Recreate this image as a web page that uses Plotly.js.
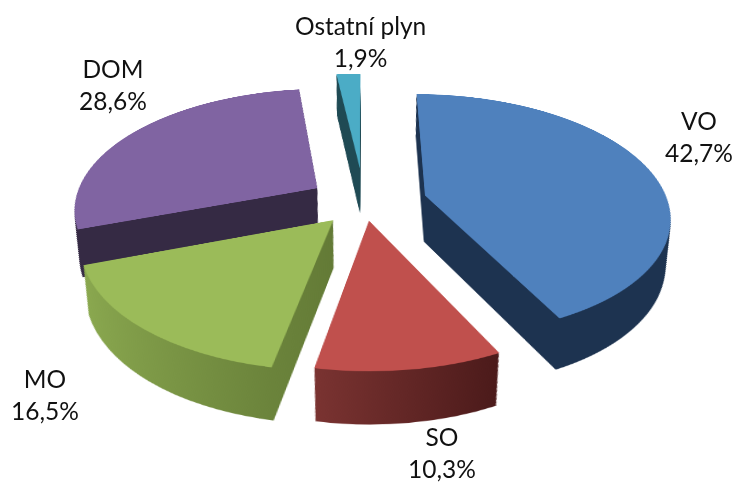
<!DOCTYPE html>
<html><head><meta charset="utf-8">
<script src="https://cdn.plot.ly/plotly-3.0.1.min.js"></script>
<style>html,body{margin:0;padding:0;background:#fff;overflow:hidden}#c{width:734px;height:482px}</style>
</head><body><div id="c"></div>
<script>
const categories=["VO","SO","MO","DOM","Ostatní plyn"];
const shares=[42.7,10.3,16.5,28.6,1.9];
const shareLabels=["42,7%","10,3%","16,5%","28,6%","1,9%"];
const topColors=["#4F81BD","#C0504D","#9BBB59","#8064A2","#4BACC6"];
const wallLeft=["#1D3350","#7A3331","#8AA84F","#352A44","#1F4A54"];
const wallRight=["#1D3350","#4B1A1A","#637A36","#352A44","#1F4A54"];
const pulls=[0.26,0.15,0.19,0.23,0.3];
const labelX=[699,442,45,113,360];
const labelY=[136,452,394,84,41];
const W=734,H=482,layers=40,step=1.3,size=370;
const traces=[];
for(let i=layers;i>=0;i--){
  const s=size*(1-0.075*i/layers);
  const cy=(H-layers*step)/2+i*step;
  traces.push({type:'pie',labels:categories,values:shares,sort:false,direction:'clockwise',rotation:0,pull:pulls,
    marker:{colors:i===0?topColors:wallLeft,line:{width:0}},textinfo:'none',hoverinfo:'skip',showlegend:false,
    domain:{x:[0,1],y:[1-(cy+s/2)/H,1-(cy-s/2)/H]}});
}
const annotations=categories.map((c,i)=>({xref:'paper',yref:'paper',x:labelX[i]/W,y:1-labelY[i]/H,xanchor:'center',yanchor:'middle',
  showarrow:false,align:'center',text:c+'<br>'+shareLabels[i],font:{family:'Lato, Carlito, sans-serif',size:24.5,color:'#111'}}));
Plotly.newPlot('c',traces,{width:W,height:H,margin:{l:0,r:0,t:0,b:0},paper_bgcolor:'rgba(0,0,0,0)',plot_bgcolor:'rgba(0,0,0,0)',annotations},{displayModeBar:false,staticPlot:true}).then(gd=>{
  const svg=gd.querySelector('.main-svg');
  const NS='http://www.w3.org/2000/svg';
  const defs=document.createElementNS(NS,'defs');
  categories.forEach((c,i)=>{
    const g=document.createElementNS(NS,'linearGradient');g.setAttribute('id','w'+i);
    [[0,wallLeft[i]],[1,wallRight[i]]].forEach(([o,col])=>{const s=document.createElementNS(NS,'stop');s.setAttribute('offset',o);s.setAttribute('stop-color',col);g.appendChild(s);});
    defs.appendChild(g);
  });
  svg.appendChild(defs);
  gd.querySelectorAll('.trace').forEach((t,k)=>{
    if(k===layers) return;
    t.querySelectorAll('.slice path.surface').forEach((p,i)=>{p.style.fill='url(#w'+i+')';});
  });
  svg.style.transformOrigin='50% 50%';
  svg.style.transform='translate(-3px,-16px) perspective(1300px) rotateX(59.5deg) scale(1.76)';
});
</script></body></html>
